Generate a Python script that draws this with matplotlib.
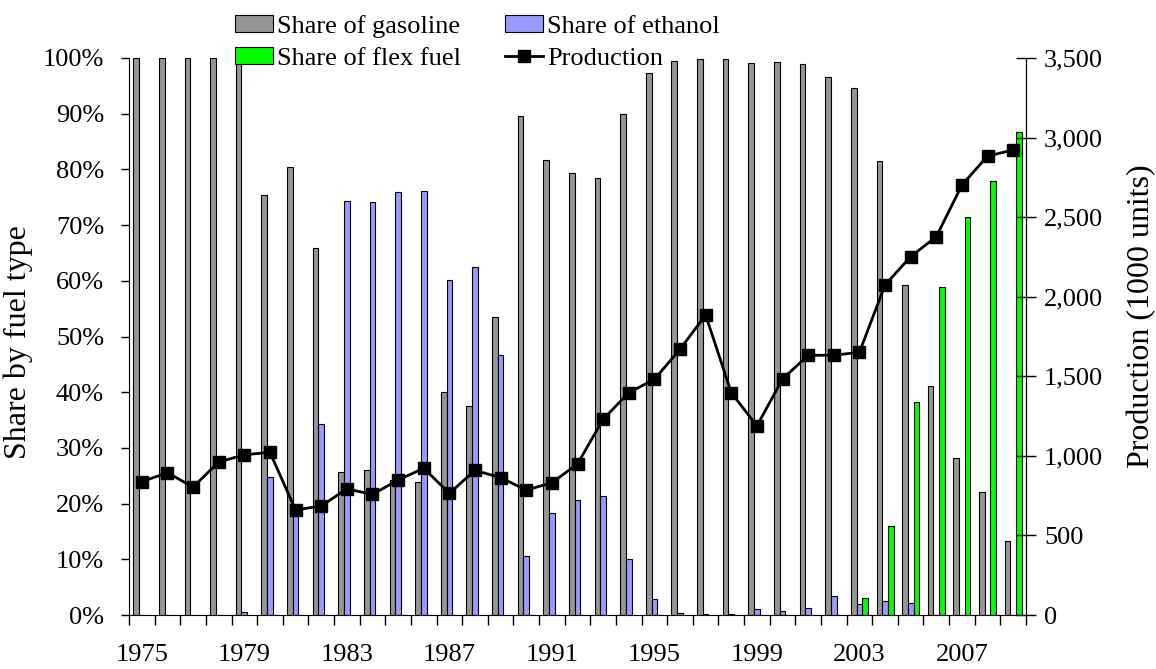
import matplotlib
matplotlib.use("Agg")
import matplotlib.pyplot as plt
from matplotlib.ticker import FuncFormatter, FixedLocator
import numpy as np

years = list(range(1975, 2010))
gasoline = [100, 100, 100, 100, 100, 75.4, 80.5, 65.8, 25.7, 26.0,
            24.2, 23.9, 40.0, 37.6, 53.5, 89.5, 81.7, 79.4, 78.4, 89.9,
            97.3, 99.5, 99.8, 99.8, 99.1, 99.3, 98.9, 96.5, 94.7, 81.5,
            59.2, 41.2, 28.2, 22.1, 13.2]
ethanol = [0, 0, 0, 0, 0.5, 24.7, 19.5, 34.3, 74.4, 74.1,
           75.9, 76.1, 60.1, 62.4, 46.6, 10.6, 18.3, 20.6, 21.4, 10.1,
           2.8, 0.4, 0.1, 0.1, 1.0, 0.7, 1.2, 3.5, 2.0, 2.5,
           2.2, 0, 0, 0, 0]
flex_fuel = [0, 0, 0, 0, 0, 0, 0, 0, 0, 0,
             0, 0, 0, 0, 0, 0, 0, 0, 0, 0,
             0, 0, 0, 0, 0, 0, 0, 0, 3.0, 16.0,
             38.2, 58.8, 71.5, 77.9, 86.8]
production = [838, 894, 804, 961, 1007, 1022, 660, 685, 792, 758,
              848, 922, 765, 909, 863, 785, 831, 949, 1230, 1397,
              1481, 1670, 1885, 1397, 1188, 1483, 1632, 1632, 1651, 2074,
              2252, 2377, 2702, 2884, 2922]
label_years = [1975, 1979, 1983, 1987, 1991, 1995, 1999, 2003, 2007]

plt.rcParams.update({
    "font.family": ["Liberation Serif", "DejaVu Serif"],
    "font.size": 19,
})

fig = plt.figure(figsize=(11.56, 6.69), dpi=100)
ax = fig.add_axes([129 / 1156, 1 - 615 / 669, 897 / 1156, 557 / 669])
ax2 = ax.twinx()

x = np.arange(len(years))
w = 0.222
b1 = ax.bar(x - w, gasoline, w, color="#969696", edgecolor="black", linewidth=0.8,
            label="Share of gasoline")
b2 = ax.bar(x, ethanol, w, color="#9999FF", edgecolor="black", linewidth=0.8,
            label="Share of ethanol")
b3 = ax.bar(x + w, flex_fuel, w, color="#00FF00", edgecolor="black", linewidth=0.8,
            label="Share of flex fuel")
l1, = ax2.plot(x, production, color="black", linewidth=2, marker="s",
               markersize=8, label="Production")

ax.set_xlim(-0.5, len(years) - 0.5)
ax.set_ylim(0, 100)
ax2.set_ylim(0, 3500)

# left axis
ax.set_yticks(np.arange(0, 101, 10))
ax.yaxis.set_major_formatter(FuncFormatter(lambda v, p: f"{int(v)}%"))
ax.tick_params(axis="y", direction="out", length=6, width=1, pad=12)
ax.set_ylabel("Share by fuel type", fontsize=23)
ax.yaxis.set_label_coords(-0.107, 0.49)

# right axis
ax2.set_yticks(np.arange(0, 3501, 500))
ax2.yaxis.set_major_formatter(FuncFormatter(lambda v, p: f"{int(v):,}"))
ax2.tick_params(axis="y", direction="inout", length=14, width=1, pad=6)
ax2.set_ylabel("Production (1000 units)", fontsize=23)
ax2.yaxis.set_label_coords(1.113, 0.537)

# x axis: tick marks between categories, labels every 4 years
ax.xaxis.set_major_locator(FixedLocator(np.arange(-0.5, len(years), 1)))
ax.tick_params(axis="x", which="major", direction="out", length=7, width=1,
               labelbottom=False)
ax.xaxis.set_minor_locator(FixedLocator([years.index(y) for y in label_years]))
ax.set_xticklabels([str(y) for y in label_years], minor=True)
ax.tick_params(axis="x", which="minor", length=0, pad=21)

for a in (ax, ax2):
    a.spines["top"].set_visible(False)
ax2.spines["left"].set_visible(False)
ax2.spines["bottom"].set_visible(False)

handles = [b1, b3, b2, l1]
labels = [h.get_label() for h in handles]
fig.legend(handles, labels, ncol=2, loc="upper left",
           bbox_to_anchor=(235 / 1156, 1 - 15 / 669), frameon=False,
           borderpad=0, borderaxespad=0, handlelength=1.45, handleheight=0.6,
           handletextpad=0.15, columnspacing=1.65, labelspacing=0.36)

fig.savefig("out.png", dpi=100)
